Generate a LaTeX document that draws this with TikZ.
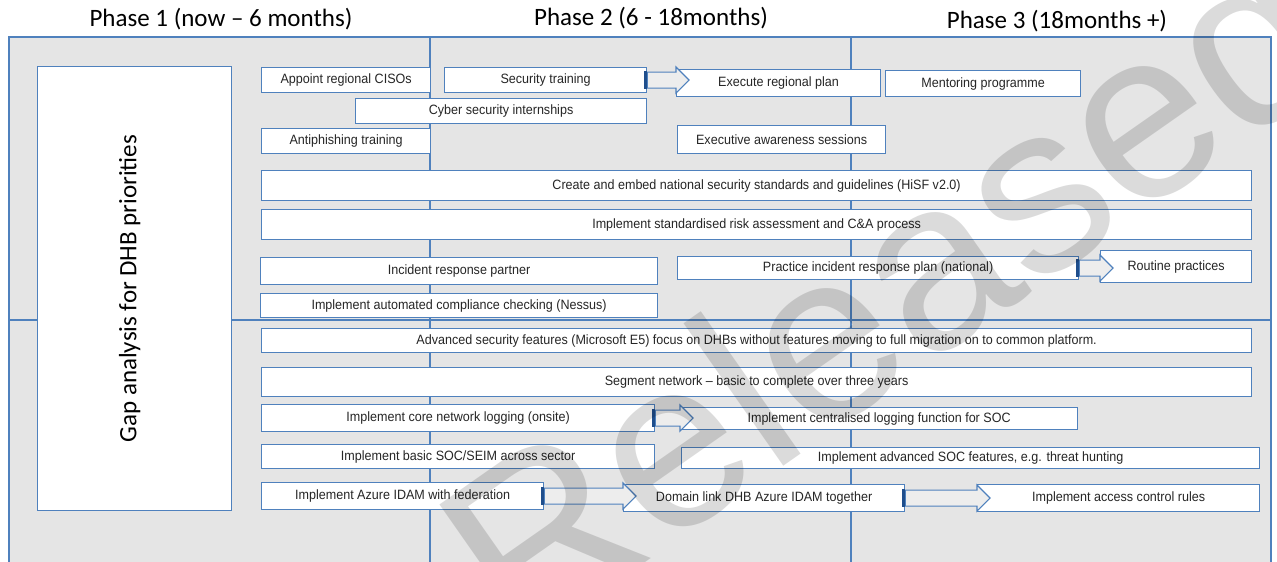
\documentclass[tikz,border=0pt]{standalone}
\usepackage{fontspec}
\setmainfont{Liberation Sans}
\newfontfamily\phasefont{Carlito}
\newfontfamily\taskfont[FakeStretch = 0.93]{Liberation Sans}
\usetikzlibrary{calc}

\definecolor{panelgrey}{RGB}{229,229,229}
\definecolor{lineblue}{RGB}{79,129,189}
\definecolor{tailblue}{RGB}{31,78,140}
\definecolor{tasktext}{RGB}{38,38,38}

\begin{document}
\begin{tikzpicture}[
        x = 1pt, y = -1pt,
        panel line/.style = {draw = lineblue, line width = 1.2pt},
        task/.style = {draw = lineblue, line width = 1.2pt, fill = white, anchor = north west, inner sep = 0pt,
            font = \taskfont\fontsize{13.5}{15}\selectfont, text = tasktext},
        phase/.style = {font = \phasefont\fontsize{25}{30}\selectfont},
        tail bar/.style = {fill = tailblue, minimum width = 3pt, minimum height = 18pt, inner sep = 0pt},
        shift arrow/.style = {draw = lineblue, line width = 1.2pt, fill = gray!14,
            to path = {
                let \p1 = (\tikztostart), \p2 = (\tikztotarget) in
                (\x1, \y1 + 8pt) -- (\x2, \y1 + 8pt) -- (\x2, \y1 + 13pt) -- (\x2 + 13pt, \y1)
                -- (\x2, \y1 - 13pt) -- (\x2, \y1 - 8pt) -- (\x1, \y1 - 8pt) -- cycle
                node [tail bar] at (\x1 - 1.5pt, \y1) {}
            }}
    ]
    \useasboundingbox (0, 0) rectangle (1277, 562);

    % phase columns
    \fill [panelgrey] (9, 37) rectangle (1271, 570);
    \draw [panel line]
        (9, 570) -- (9, 37) -- (1271, 37) -- (1271, 570)
        (430, 37) -- (430, 570)
        (851, 36) -- (851, 570)
        (9, 320) -- (1271, 320)
    ;

    \path
        (221, 19) node (phaseone) [phase] {Phase 1 (now – 6 months)}
        (651, 18) node (phasetwo) [phase] {Phase 2 (6 - 18months)}
        (1057, 21) node (phasethree) [phase] {Phase 3 (18months +)}

        (37, 66) node (gap) [task, minimum width = 194pt, minimum height = 444pt] {}
        ([xshift = -5pt] gap.center) node (gaptext) [phase, rotate = 90] {Gap analysis for DHB priorities}
    ;

    \path
        (261, 67) node (appoint) [task, minimum width = 169pt, minimum height = 25pt] {Appoint regional CISOs}
        (444, 67) node (sectrain) [task, minimum width = 202pt, minimum height = 25pt] {Security training}
        (676, 69) node (execplan) [task, minimum width = 204pt, minimum height = 27pt] {Execute regional plan}
        (885, 70) node (mentor) [task, minimum width = 195pt, minimum height = 26pt] {Mentoring programme}
        (355, 98) node (intern) [task, minimum width = 291pt, minimum height = 25pt] {Cyber security internships}
        (261, 128) node (antiphish) [task, minimum width = 169pt, minimum height = 25pt] {Antiphishing training}
        (677, 125) node (execaware) [task, minimum width = 208pt, minimum height = 28pt] {Executive awareness sessions}

        (261, 170) node (hisf) [task, minimum width = 990pt, minimum height = 30pt] {Create and embed national security standards and guidelines (HiSF v2.0)}
        (261, 209) node (riskca) [task, minimum width = 990pt, minimum height = 30pt] {Implement standardised risk assessment and C\&A process}

        (260, 257) node (irpartner) [task, minimum width = 397pt, minimum height = 27pt] {Incident response partner}
        (677, 256) node (irplan) [task, minimum width = 401pt, minimum height = 23pt] {Practice incident response plan (national)}
        (1100, 250) node (routine) [task, minimum width = 151pt, minimum height = 32pt] {Routine practices}
        (260, 293) node (nessus) [task, minimum width = 397pt, minimum height = 24pt] {Implement automated compliance checking (Nessus)}

        (261, 328) node (efive) [task, minimum width = 990pt, minimum height = 24pt] {Advanced security features (Microsoft E5) focus on DHBs without features moving to full migration on to common platform.}
        (261, 367) node (segment) [task, minimum width = 990pt, minimum height = 29pt] {Segment network – basic to complete over three years}

        (261, 404) node (corelog) [task, minimum width = 393pt, minimum height = 27pt] {Implement core network logging (onsite)}
        (680, 407) node (centrallog) [task, minimum width = 397pt, minimum height = 22pt] {Implement centralised logging function for SOC}
        (261, 444) node (basicsoc) [task, minimum width = 393pt, minimum height = 24pt] {Implement basic SOC/SEIM across sector}
        (681, 447) node (advsoc) [task, minimum width = 578pt, minimum height = 21pt] {Implement advanced SOC features, e.g. threat hunting}

        (261, 482) node (azure) [task, minimum width = 282pt, minimum height = 27pt] {Implement Azure IDAM with federation}
        (623, 484) node (domain) [task, minimum width = 281pt, minimum height = 27pt] {Domain link DHB Azure IDAM together}
        (977, 484) node (access) [task, minimum width = 282pt, minimum height = 27pt] {Implement access control rules}
    ;

    \path
        (sectrain.east) edge [shift arrow] (execplan.west)
        (irplan.east) edge [shift arrow] (routine.west)
        (corelog.east) edge [shift arrow] (centrallog.west)
        (azure.east) edge [shift arrow] (domain.west)
        (domain.east) edge [shift arrow] (access.west)
    ;

    % watermark
    \node (stamp) [rotate = 35, text = black, text opacity = 0.14, font = \fontsize{240}{240}\selectfont] at (885, 290) {Released};
\end{tikzpicture}
\end{document}
